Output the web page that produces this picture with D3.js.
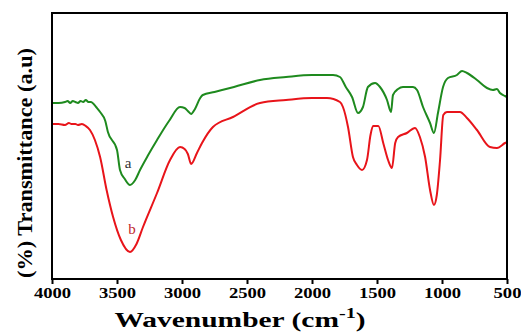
<!DOCTYPE html>
<html>
<head>
<meta charset="utf-8">
<script src="https://cdn.jsdelivr.net/npm/d3@7"></script>
<style>
  body { margin: 0; background: #fff; }
  svg text { font-family: "Liberation Serif", "Times New Roman", serif; font-weight: bold; }
</style>
</head>
<body>
<svg id="chart" width="521" height="333"></svg>
<script>
// wavenumber (cm-1) and transmittance (a.u)
var wnA = [4000, 3950, 3900, 3880, 3860, 3840, 3820, 3800, 3780, 3760, 3740, 3720, 3700, 3680, 3660, 3630, 3590, 3570, 3500, 3477, 3440, 3400, 3360, 3323, 3260, 3192, 3100, 3015, 2980, 2955, 2930, 2900, 2860, 2840, 2750, 2600, 2400, 2200, 2000, 1838, 1785, 1740, 1692, 1646, 1608, 1570, 1515, 1477, 1423, 1392, 1377, 1338, 1300, 1223, 1192, 1146, 1092, 1062, 1031, 992, 954, 885, 846, 808, 731, 654, 608, 577, 554, 515, 500];
var trA = [176, 176, 177, 178, 176, 178, 177, 176, 178, 177, 179, 177, 177, 175, 172, 167, 158, 147, 129, 109, 100, 94, 99, 109, 124, 139, 158, 172, 171, 168, 165, 170, 181, 184, 187, 192, 199, 202, 204, 204, 202, 192, 182, 166, 172, 192, 196, 192, 179, 167, 184, 190, 192, 192, 189, 172, 156, 146, 166, 192, 201, 204, 208, 206, 199, 191, 189, 190, 186, 183, 182];

var wnB = [4000, 3950, 3900, 3870, 3850, 3820, 3800, 3770, 3740, 3708, 3670, 3630, 3580, 3530, 3470, 3400, 3350, 3300, 3192, 3092, 3015, 2980, 2955, 2930, 2885, 2846, 2762, 2608, 2400, 2200, 2000, 1885, 1785, 1762, 1723, 1685, 1654, 1615, 1577, 1550, 1530, 1490, 1450, 1415, 1385, 1360, 1338, 1270, 1208, 1170, 1130, 1092, 1062, 1040, 1015, 990, 962, 862, 808, 731, 631, 577, 515, 500];
var trB = [155, 155, 154, 156, 155, 155, 154, 155, 153, 149, 139, 122, 89, 62, 39, 27, 35, 52, 86, 119, 132, 130, 125, 115, 126, 136, 152, 162, 176, 179, 181, 181, 177, 172, 152, 122, 114, 109, 119, 144, 153, 153, 135, 119, 111, 136, 142, 146, 151, 142, 122, 89, 74, 84, 119, 164, 167, 167, 161, 149, 132, 131, 136, 137];

var xTicks = [4000, 3500, 3000, 2500, 2000, 1500, 1000, 500];

var svg = d3.select("#chart");
var mLeft = 52, mRight = 507, mTop = 13, mBottom = 279;

var x = d3.scaleLinear().domain([4000, 500]).range([mLeft, mRight]);
var y = d3.scaleLinear().domain([0, 266]).range([mBottom, mTop]);

var line = d3.line()
  .x(function(d) { return x(d[0]); })
  .y(function(d) { return y(d[1]); })
  .curve(d3.curveMonotoneX);

svg.append("path")
  .datum(d3.zip(wnA, trA))
  .attr("d", line)
  .attr("fill", "none")
  .attr("stroke", "#1e8a1e")
  .attr("stroke-width", 2);

svg.append("path")
  .datum(d3.zip(wnB, trB))
  .attr("d", line)
  .attr("fill", "none")
  .attr("stroke", "#e8141a")
  .attr("stroke-width", 2);

// frame
svg.append("rect")
  .attr("x", mLeft).attr("y", mTop)
  .attr("width", mRight - mLeft).attr("height", mBottom - mTop)
  .attr("fill", "none").attr("stroke", "#000").attr("stroke-width", 2);

var xAxis = svg.append("g")
  .attr("transform", "translate(0," + mBottom + ")")
  .call(d3.axisBottom(x).tickValues(xTicks).tickSize(5).tickPadding(4).tickFormat(d3.format("d")));
xAxis.select(".domain").remove();
xAxis.selectAll("line").attr("stroke-width", 2);
xAxis.selectAll("text")
  .attr("font-size", 14)
  .attr("fill", "#000")
  .attr("textLength", function(d) { return String(d).length * 9.3; })
  .attr("lengthAdjust", "spacingAndGlyphs");

// curve labels
svg.append("text").attr("x", 128).attr("y", 168).attr("text-anchor", "middle")
  .attr("font-size", 15).style("font-weight", "normal").attr("fill", "#333").text("a");
svg.append("text").attr("x", 132).attr("y", 234).attr("text-anchor", "middle")
  .attr("font-size", 15).style("font-weight", "normal").attr("fill", "#c0282d").text("b");

// axis titles
var xt = svg.append("text")
  .attr("transform", "translate(240,327) scale(1.34,1)")
  .attr("text-anchor", "middle")
  .attr("font-size", 22);
xt.append("tspan").text("Wavenumber (cm");
xt.append("tspan").attr("font-size", 15).attr("dy", -9).text("-1");
xt.append("tspan").attr("dy", 9).text(")");

svg.append("text")
  .attr("transform", "translate(32,163) rotate(-90)")
  .attr("text-anchor", "middle")
  .attr("font-size", 20)
  .attr("textLength", 230)
  .attr("lengthAdjust", "spacingAndGlyphs")
  .text("(%) Transmittance (a.u)");
</script>
</body>
</html>
